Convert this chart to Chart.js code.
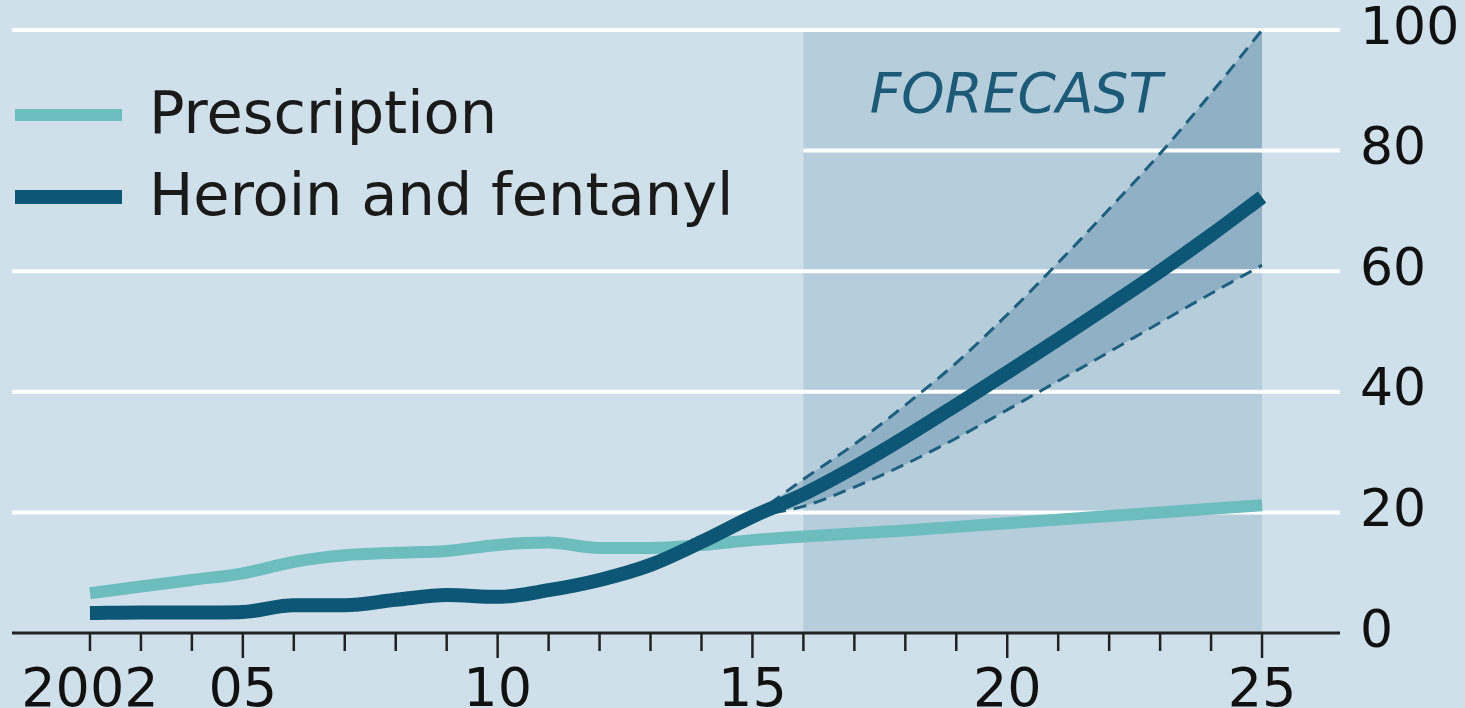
<!DOCTYPE html>
<html>
<head>
<meta charset="utf-8">
<script src="https://cdn.jsdelivr.net/npm/chart.js@4"></script>
<style>
  html, body { margin: 0; padding: 0; background: #d0e0ea; }
  #wrap { width: 1465px; height: 708px; }
</style>
</head>
<body>
<div id="wrap"><canvas id="opioidChart"></canvas></div>
<script>
// data
const years = [2002, 2003, 2004, 2005, 2006, 2007, 2008, 2009, 2010, 2011, 2012, 2013,
               2014, 2015, 2016, 2017, 2018, 2019, 2020, 2021, 2022, 2023, 2024, 2025];
const prescription = [6.6, 7.7, 8.8, 9.9, 11.8, 12.9, 13.3, 13.6, 14.6, 15.0, 14.1, 14.1,
                      14.6, 15.4, 16.0, 16.5, 17.0, 17.6, 18.2, 18.8, 19.4, 20.0, 20.6, 21.2];
const heroin = [3.3, 3.4, 3.4, 3.5, 4.6, 4.6, 5.5, 6.3, 6.0, 7.1, 8.8, 11.3,
                15.1, 19.3, 23.0, 27.5, 32.5, 37.8, 43.2, 48.7, 54.3, 60.0, 66.0, 72.3];
const bandYears = [2015, 2016, 2017, 2018, 2019, 2020, 2021, 2022, 2023, 2024, 2025];
const heroinHigh = [19.3, 25.5, 31.3, 37.8, 44.8, 52.8, 61.4, 70.3, 79.5, 89.5, 100.0];
const heroinLow = [19.3, 21.0, 24.2, 28.0, 32.3, 37.0, 41.8, 46.6, 51.5, 56.3, 61.0];
const yTicks = [0, 20, 40, 60, 80, 100];
const xTickLabels = {2002: '2002', 2005: '05', 2010: '10', 2015: '15', 2020: '20', 2025: '25'};
const seriesNames = ['Prescription', 'Heroin and fentanyl'];
const forecastFrom = 2016;
const forecastTo = 2025;
const forecastText = 'FORECAST';

const FONT = '"DejaVu Sans", sans-serif';
const LIGHT = '#6dbdbf';
const DARK = '#0d5675';

function toPoints(xs, ys) {
    return xs.map((x, i) => ({x: x, y: ys[i]}));
}

const decorations = {
    id: 'decorations',
    beforeDraw(chart) {
        const {ctx, scales: {x, y}} = chart;
        let x0 = x.getPixelForValue(forecastFrom);
        let x1 = x.getPixelForValue(forecastTo);
        let yTop = y.getPixelForValue(100);
        let yBot = y.getPixelForValue(0);
        ctx.save();
        ctx.fillStyle = '#b6cddb';
        ctx.fillRect(x0, yTop, x1 - x0, yBot - yTop);
        ctx.restore();
    },
    beforeDatasetsDraw(chart) {
        // white gridlines, drawn over the forecast band
        const {ctx, chartArea, scales: {x, y}} = chart;
        ctx.save();
        ctx.strokeStyle = '#ffffff';
        ctx.lineWidth = 4;
        yTicks.forEach(v => {
            if (v === 0) return;
            let py = y.getPixelForValue(v);
            let left = v === 80 ? x.getPixelForValue(forecastFrom) : chartArea.left;
            ctx.beginPath();
            ctx.moveTo(left, py);
            ctx.lineTo(chartArea.right, py);
            ctx.stroke();
        });
        ctx.restore();
    },
    afterDraw(chart) {
        const {ctx, chartArea, scales: {x, y}} = chart;
        let base = y.getPixelForValue(0);
        ctx.save();
        // axis line and year ticks
        ctx.strokeStyle = '#222';
        ctx.lineWidth = 3;
        ctx.beginPath();
        ctx.moveTo(chartArea.left, base);
        ctx.lineTo(chartArea.right, base);
        ctx.stroke();
        ctx.lineWidth = 2.5;
        years.forEach(yr => {
            let px = x.getPixelForValue(yr);
            ctx.beginPath();
            ctx.moveTo(px, base);
            ctx.lineTo(px, base + (yr % 5 === 0 ? 25 : 18));
            ctx.stroke();
        });

        // forecast label
        ctx.fillStyle = '#1d5a78';
        ctx.font = 'italic 55px ' + FONT;
        ctx.textAlign = 'center';
        ctx.textBaseline = 'middle';
        ctx.fillText(forecastText, x.getPixelForValue(2020.17), y.getPixelForValue(88.8));

        // legend
        let colors = [LIGHT, DARK];
        let widths = [12, 14];
        let rows = [115, 197];
        ctx.textAlign = 'left';
        ctx.textBaseline = 'middle';
        ctx.font = '59px ' + FONT;
        seriesNames.forEach((name, i) => {
            ctx.strokeStyle = colors[i];
            ctx.lineWidth = widths[i];
            ctx.beginPath();
            ctx.moveTo(chartArea.left + 3, rows[i]);
            ctx.lineTo(chartArea.left + 110, rows[i]);
            ctx.stroke();
            ctx.fillStyle = '#1a1a1a';
            ctx.fillText(name, chartArea.left + 137, rows[i] + 3);
        });
        ctx.restore();
    }
};

let ctx = document.getElementById('opioidChart');
let chart = new Chart(ctx, {
    type: 'line',
    data: {
        datasets: [
            {
                label: seriesNames[1],
                data: toPoints(years, heroin),
                borderColor: DARK,
                borderWidth: 14,
                pointRadius: 0,
                cubicInterpolationMode: 'monotone',
                fill: false
            },
            {
                label: seriesNames[0],
                data: toPoints(years, prescription),
                borderColor: LIGHT,
                borderWidth: 12,
                pointRadius: 0,
                cubicInterpolationMode: 'monotone',
                fill: false
            },
            {
                label: 'High',
                data: toPoints(bandYears, heroinHigh),
                borderColor: '#1d5f7c',
                borderWidth: 3,
                borderDash: [13, 8],
                pointRadius: 0,
                cubicInterpolationMode: 'monotone',
                backgroundColor: 'rgba(30,90,130,0.25)',
                fill: '+1'
            },
            {
                label: 'Low',
                data: toPoints(bandYears, heroinLow),
                borderColor: '#1d5f7c',
                borderWidth: 3,
                borderDash: [13, 8],
                pointRadius: 0,
                cubicInterpolationMode: 'monotone',
                fill: false
            }
        ]
    },
    options: {
        responsive: true,
        maintainAspectRatio: false,
        animation: false,
        layout: {
            padding: {top: 30, left: 12, right: 0, bottom: 0}
        },
        plugins: {
            legend: {display: false},
            tooltip: {enabled: false},
            filler: {drawTime: 'beforeDatasetsDraw'}
        },
        scales: {
            x: {
                type: 'linear',
                min: 2000.47,
                max: 2026.53,
                afterBuildTicks: scale => {
                    scale.ticks = years.map(v => ({value: v}));
                },
                afterFit: scale => {
                    scale.height = 75;
                    scale.paddingLeft = 0;
                    scale.paddingRight = 0;
                },
                ticks: {
                    autoSkip: false,
                    maxRotation: 0,
                    padding: 27,
                    color: '#111',
                    font: {family: FONT, size: 54},
                    callback: v => xTickLabels[v] || ''
                },
                grid: {display: false, drawTicks: false},
                border: {display: false}
            },
            y: {
                position: 'right',
                min: 0,
                max: 100,
                afterBuildTicks: scale => {
                    scale.ticks = yTicks.map(v => ({value: v}));
                },
                afterFit: scale => {
                    scale.width = 125;
                    scale.paddingTop = 0;
                    scale.paddingBottom = 0;
                },
                ticks: {
                    padding: 20,
                    color: '#111',
                    font: {family: FONT, size: 52}
                },
                grid: {display: false, drawTicks: false},
                border: {display: false}
            }
        }
    },
    plugins: [decorations]
});
</script>
</body>
</html>
